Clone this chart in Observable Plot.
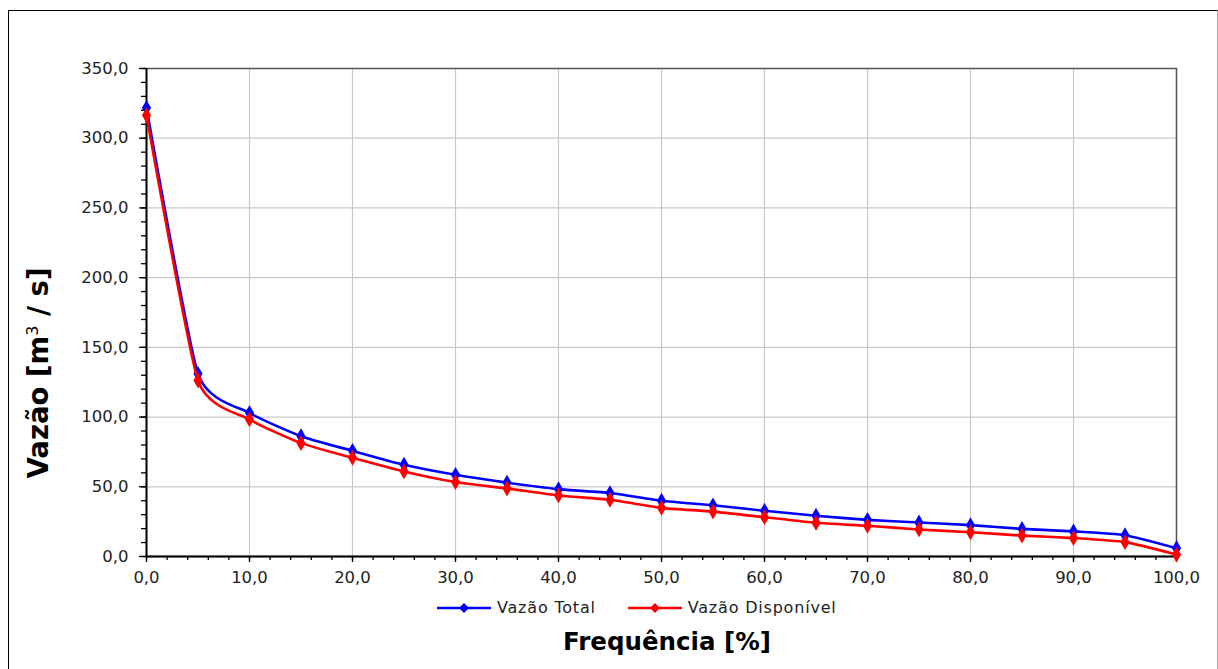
<!DOCTYPE html>
<html>
<head>
<meta charset="utf-8">
<script src="https://cdn.jsdelivr.net/npm/d3@7"></script>
<script src="https://cdn.jsdelivr.net/npm/@observablehq/plot@0.6"></script>
<style>
  html, body { margin: 0; padding: 0; background: #fff; }
  #wrap { position: relative; width: 1218px; height: 669px; overflow: hidden; font-family: "DejaVu Sans", sans-serif; }
  #border { position: absolute; left: 8px; top: 10px; width: 1208px; height: 700px; border-left: 1px solid #000; border-top: 1px solid #000; border-right: 1px solid #aaa; pointer-events: none; }
  .ttl { position: absolute; font-weight: bold; color: #000; white-space: nowrap; }
  #xtitle { left: 0; width: 1334px; text-align: center; top: 627px; font-size: 24.5px; }
  #ytitle { left: 38px; top: 373px; font-size: 27.5px; transform: translate(-50%, -50%) rotate(-90deg); }
  #legend { position: absolute; top: 598px; left: 437px; display: flex; align-items: center; font-size: 16px; color: #222; letter-spacing: 0.8px; }
  #legend .item { display: flex; align-items: center; margin-right: 32px; }
  #legend svg { margin-right: 6px; }
</style>
</head>
<body>
<div id="wrap">
  <div id="chart"></div>
  <div id="border"></div>
  <div class="ttl" id="xtitle">Frequência [%]</div>
  <div class="ttl" id="ytitle">Vazão [m<sup style="font-size:16px;font-weight:normal">3</sup> / s]</div>
  <div id="legend"></div>
</div>
<script>
const frequencia = [0, 5, 10, 15, 20, 25, 30, 35, 40, 45, 50, 55, 60, 65, 70, 75, 80, 85, 90, 95, 100];
const vazaoTotal = [321.8, 131.0, 103.0, 86.3, 75.8, 65.8, 58.6, 53.0, 48.3, 45.5, 40.0, 36.7, 32.8, 29.2, 26.3, 24.4, 22.5, 19.8, 18.0, 15.3, 6.0];
const vazaoDisponivel = [316.4, 126.2, 98.3, 81.3, 70.8, 61.0, 53.4, 48.8, 43.8, 40.7, 34.9, 32.2, 28.2, 24.2, 22.0, 19.4, 17.4, 15.0, 13.2, 10.3, 1.4];
const seriesNames = ["Vazão Total", "Vazão Disponível"];
const seriesColors = ["#0000ff", "#ff0000"];
const xTicks = [0, 10, 20, 30, 40, 50, 60, 70, 80, 90, 100];
const yTicks = [0, 50, 100, 150, 200, 250, 300, 350];

const total = frequencia.map((f, i) => ({f, v: vazaoTotal[i]}));
const disp = frequencia.map((f, i) => ({f, v: vazaoDisponivel[i]}));
const fmt = d => d.toFixed(1).replace(".", ",");

const chart = Plot.plot({
  width: 1218,
  height: 669,
  marginLeft: 146,
  marginRight: 42,
  marginTop: 68,
  marginBottom: 113,
  style: {background: "transparent", fontFamily: "DejaVu Sans, sans-serif", fontSize: "16px", color: "#222"},
  x: {domain: [0, 100], label: null},
  y: {domain: [0, 350], label: null},
  marks: [
    Plot.gridX(xTicks, {stroke: "#c8c8c8", strokeOpacity: 1, strokeWidth: 1.2}),
    Plot.gridY(yTicks, {stroke: "#c8c8c8", strokeOpacity: 1, strokeWidth: 1.2}),
    Plot.frame({stroke: "#555", strokeWidth: 1.5}),
    Plot.axisX(d3.range(0, 101, 2), {tickSize: 4, text: null, stroke: "#000", strokeWidth: 1.3, label: null}),
    Plot.axisX(xTicks, {tickSize: 6, tickPadding: 9, tickFormat: fmt, stroke: "#000", strokeWidth: 1.3, fill: "#222", fontSize: 16.5, label: null}),
    Plot.axisY(d3.range(0, 351, 10), {tickSize: 5, text: null, stroke: "#000", strokeWidth: 1.3, label: null}),
    Plot.axisY(yTicks, {tickSize: 7, tickPadding: 11, tickFormat: fmt, stroke: "#000", strokeWidth: 1.3, fill: "#222", fontSize: 16.5, label: null}),
    Plot.ruleX([0], {stroke: "#000", strokeWidth: 1.8}),
    Plot.ruleY([0], {stroke: "#000", strokeWidth: 1.8}),
    Plot.line(total, {x: "f", y: "v", stroke: seriesColors[0], strokeWidth: 2.6, curve: "cardinal", tension: 0.45}),
    Plot.dot(total, {x: "f", y: "v", symbol: "diamond", fill: seriesColors[0], r: 4.8}),
    Plot.line(disp, {x: "f", y: "v", stroke: seriesColors[1], strokeWidth: 2.6, curve: "cardinal", tension: 0.45}),
    Plot.dot(disp, {x: "f", y: "v", symbol: "diamond", fill: seriesColors[1], r: 4.8})
  ]
});
document.getElementById("chart").appendChild(chart);

const legend = document.getElementById("legend");
seriesNames.forEach((name, i) => {
  const item = document.createElement("div");
  item.className = "item";
  const c = seriesColors[i];
  item.innerHTML = `<svg width="54" height="12"><line x1="0" y1="6" x2="54" y2="6" stroke="${c}" stroke-width="2.6"/><path d="M27,1 L32,6 L27,11 L22,6 Z" fill="${c}"/></svg><span>${name}</span>`;
  legend.appendChild(item);
});
</script>
</body>
</html>
